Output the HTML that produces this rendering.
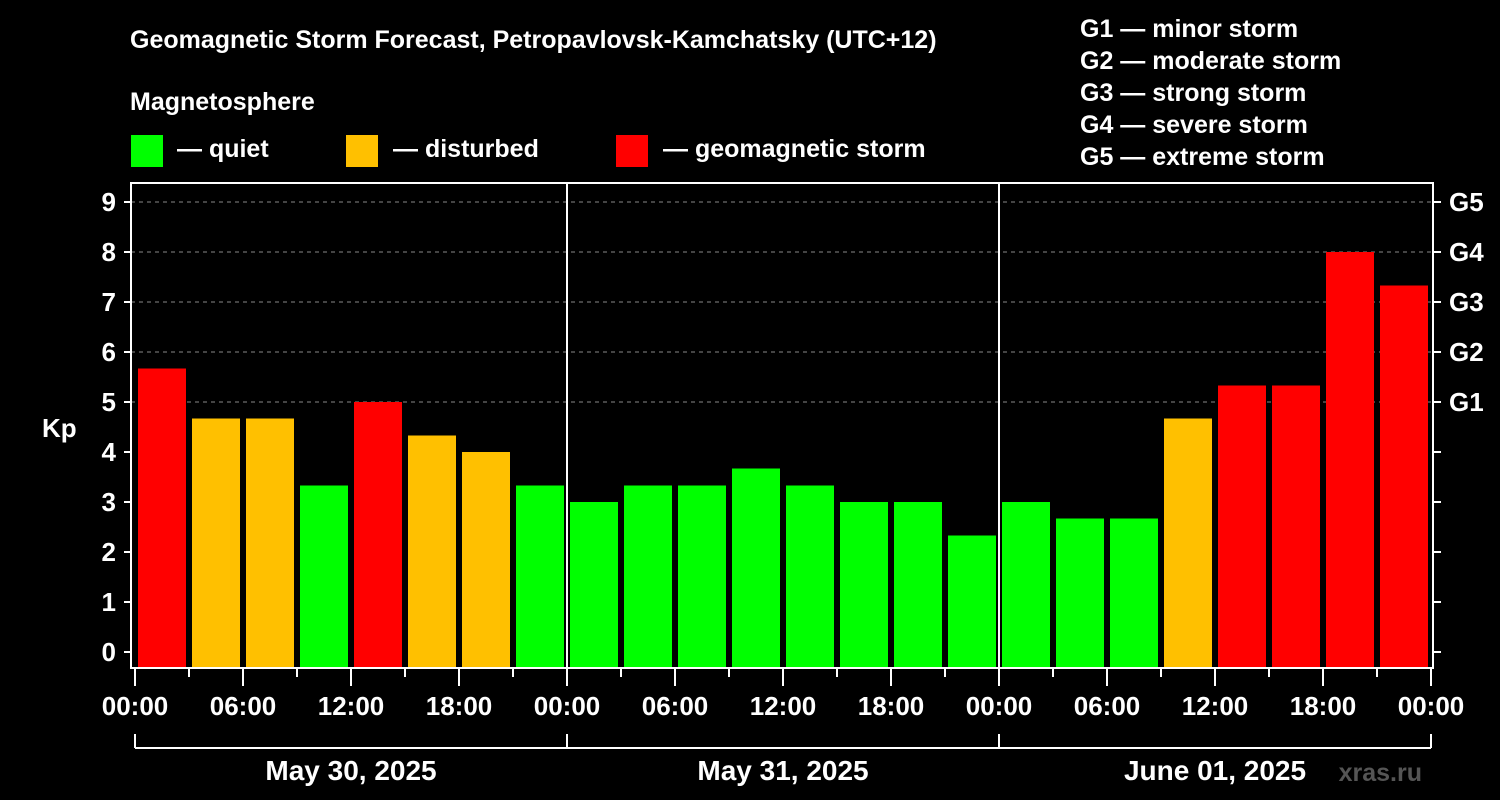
<!DOCTYPE html>
<html><head><meta charset="utf-8"><style>
html,body{margin:0;padding:0;background:#000;}
svg{display:block;font-family:"Liberation Sans",Arial,sans-serif;font-weight:bold;}
</style></head><body>
<svg id="chart" width="1500" height="800" xmlns="http://www.w3.org/2000/svg">
<rect width="1500" height="800" fill="#000"/>
<text x="130" y="48" fill="#fff" font-size="25">Geomagnetic Storm Forecast, Petropavlovsk-Kamchatsky (UTC+12)</text>
<text x="130" y="110" fill="#fff" font-size="25">Magnetosphere</text>
<g><rect x="131" y="135" width="32" height="32" fill="#00ff00"/><text x="177" y="157" fill="#fff" font-size="25">— quiet</text></g>
<g><rect x="346" y="135" width="32" height="32" fill="#ffc000"/><text x="393" y="157" fill="#fff" font-size="25">— disturbed</text></g>
<g><rect x="616" y="135" width="32" height="32" fill="#ff0000"/><text x="663" y="157" fill="#fff" font-size="25">— geomagnetic storm</text></g>
<g fill="#fff" font-size="25">
<text x="1080" y="37">G1 — minor storm</text>
<text x="1080" y="69">G2 — moderate storm</text>
<text x="1080" y="101">G3 — strong storm</text>
<text x="1080" y="133">G4 — severe storm</text>
<text x="1080" y="165">G5 — extreme storm</text>
</g>
<text x="42" y="437" fill="#fff" font-size="26">Kp</text>
<text x="1422" y="781" fill="#555" font-size="25" text-anchor="end">xras.ru</text>
<g id="grid"></g><g id="bars"></g><g id="axes"></g>
</svg>
<script>
const kpValues=[5.67,4.67,4.67,3.33,5,4.33,4,3.33,3,3.33,3.33,3.67,3.33,3,3,2.33,3,2.67,2.67,4.67,5.33,5.33,8,7.33];
const yTicks=[0,1,2,3,4,5,6,7,8,9];
const gLabels=["","","","","","G1","G2","G3","G4","G5"];
const hourLabels=["00:00","06:00","12:00","18:00"];
const dayLabels=["May 30, 2025","May 31, 2025","June 01, 2025"];
const NS="http://www.w3.org/2000/svg";
const L=131,R=1433,T=183,B=668,X0=135,SLOT=54;
const y=k=>652-50*k;
const x=i=>X0+i*SLOT;
function mk(tag,attrs,parent,txt){const e=document.createElementNS(NS,tag);for(const k in attrs)e.setAttribute(k,attrs[k]);if(txt!==undefined)e.textContent=txt;document.getElementById(parent).appendChild(e);return e;}
const color=v=>v>=5?"#ff0000":(v>=4?"#ffc000":"#00ff00");
yTicks.forEach(k=>{if(k>=5){const g=mk("line",{x1:L,x2:R,y1:y(k),y2:y(k),stroke:"#888","stroke-dasharray":"4,4","stroke-width":1},"grid");

}});
kpValues.forEach((v,i)=>{const r=mk("rect",{x:x(i)+3,y:y(v),width:48,height:B-y(v),fill:color(v)},"bars");

});
mk("rect",{x:L,y:T,width:R-L,height:B-T,fill:"none",stroke:"#fff","stroke-width":2},"axes");
for(let d=1;d<dayLabels.length;d++){const l=mk("line",{x1:x(d*8),x2:x(d*8),y1:T,y2:B,stroke:"#fff","stroke-width":2},"axes");

}
yTicks.forEach(k=>{mk("line",{x1:124,x2:L,y1:y(k),y2:y(k),stroke:"#fff","stroke-width":2},"axes");
mk("line",{x1:R,x2:1441,y1:y(k),y2:y(k),stroke:"#fff","stroke-width":2},"axes");
const t=mk("text",{x:116,y:y(k)+9,fill:"#fff","font-size":26,"text-anchor":"end"},"axes",String(k));


if(gLabels[k]){const g=mk("text",{x:1449,y:y(k)+9,fill:"#fff","font-size":26},"axes",gLabels[k]);

}});
for(let i=0;i<=kpValues.length;i++){const major=i%2===0;mk("line",{x1:x(i),x2:x(i),y1:B,y2:major?686:677,stroke:"#fff","stroke-width":2},"axes");
if(major){const t=mk("text",{x:x(i),y:715,fill:"#fff","font-size":26,"text-anchor":"middle"},"axes",hourLabels[(i/2)%4]);

}}
mk("line",{x1:x(0),x2:x(24),y1:748,y2:748,stroke:"#fff","stroke-width":2},"axes");
for(let d=0;d<=dayLabels.length;d++)mk("line",{x1:x(d*8),x2:x(d*8),y1:734,y2:748,stroke:"#fff","stroke-width":2},"axes");
dayLabels.forEach((s,d)=>{const t=mk("text",{x:x(d*8+4),y:780,fill:"#fff","font-size":28,"text-anchor":"middle"},"axes",s);

});
</script>
</body></html>
